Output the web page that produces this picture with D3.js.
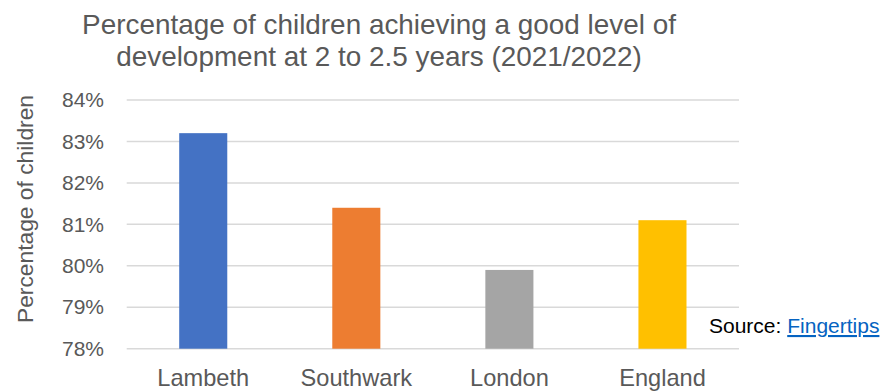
<!DOCTYPE html>
<html>
<head>
<meta charset="utf-8">
<script src="https://cdn.jsdelivr.net/npm/d3@7"></script>
<style>
  html, body { margin: 0; padding: 0; background: #fff; }
  svg { display: block; font-family: Arial, "Liberation Sans", sans-serif; }
</style>
</head>
<body>
<svg id="chart" width="884" height="391"></svg>
<script>
// Good level of development at 2 to 2.5 years, 2021/2022
const areas = ["Lambeth", "Southwark", "London", "England"];
const percentages = [83.2, 81.4, 79.9, 81.1];
const barColors = ["#4472c4", "#ed7d31", "#a5a5a5", "#ffc000"];
const yTicks = [78, 79, 80, 81, 82, 83, 84];
const titleLines = [
  "Percentage of children achieving a good level of",
  "development at 2 to 2.5 years (2021/2022)"
];

const svg = d3.select("#chart");
const plotLeft = 126.7, plotRight = 739, plotTop = 100, plotBottom = 348.7;

const x = d3.scaleBand()
  .domain(areas)
  .range([plotLeft, plotRight])
  .paddingInner(0.686)
  .paddingOuter(0.343);

const y = d3.scaleLinear()
  .domain([78, 84])
  .range([plotBottom, plotTop]);

// Horizontal gridlines
svg.append("g")
  .selectAll("line")
  .data(yTicks)
  .join("line")
  .attr("x1", plotLeft)
  .attr("x2", plotRight)
  .attr("y1", d => y(d))
  .attr("y2", d => y(d))
  .attr("stroke", "#d9d9d9")
  .attr("stroke-width", 1.5);

// Y axis tick labels
const yAxis = d3.axisLeft(y)
  .tickValues(yTicks)
  .tickFormat(d => d + "%")
  .tickSize(0)
  .tickPadding(0);

svg.append("g")
  .attr("transform", `translate(${104},0)`)
  .call(yAxis)
  .call(g => g.select(".domain").remove())
  .call(g => g.selectAll("text")
    .attr("fill", "#595959")
    .style("font-size", "21px")
    .style("font-family", "Arial, 'Liberation Sans', sans-serif"));

// Bars
svg.append("g")
  .selectAll("rect")
  .data(areas)
  .join("rect")
  .attr("x", d => x(d))
  .attr("width", x.bandwidth())
  .attr("y", (d, i) => y(percentages[i]))
  .attr("height", (d, i) => y(78) - y(percentages[i]))
  .attr("fill", (d, i) => barColors[i]);

// Category labels
const xAxis = d3.axisBottom(x).tickSize(0).tickPadding(0);
svg.append("g")
  .attr("transform", `translate(0,${plotBottom})`)
  .call(xAxis)
  .call(g => g.select(".domain").remove())
  .call(g => g.selectAll("text")
    .attr("y", 37)
    .attr("dy", null)
    .attr("fill", "#595959")
    .style("font-size", "23.6px")
    .style("font-family", "Arial, 'Liberation Sans', sans-serif"));

// Title
svg.append("text")
  .attr("x", 379)
  .attr("text-anchor", "middle")
  .attr("fill", "#595959")
  .style("font-size", "27.9px")
  .selectAll("tspan")
  .data(titleLines)
  .join("tspan")
  .attr("x", 379)
  .attr("y", (d, i) => 34 + i * 32)
  .text(d => d);

// Y axis title
svg.append("text")
  .attr("transform", "translate(33,209) rotate(-90)")
  .attr("text-anchor", "middle")
  .attr("fill", "#595959")
  .style("font-size", "22.8px")
  .text("Percentage of children");

// Source note
const source = svg.append("text")
  .attr("x", 709)
  .attr("y", 333)
  .attr("fill", "#000")
  .style("font-size", "21px");
source.append("tspan").text("Source: ");
source.append("tspan")
  .attr("fill", "#0563c1")
  .attr("text-decoration", "underline")
  .text("Fingertips");
</script>
</body>
</html>
